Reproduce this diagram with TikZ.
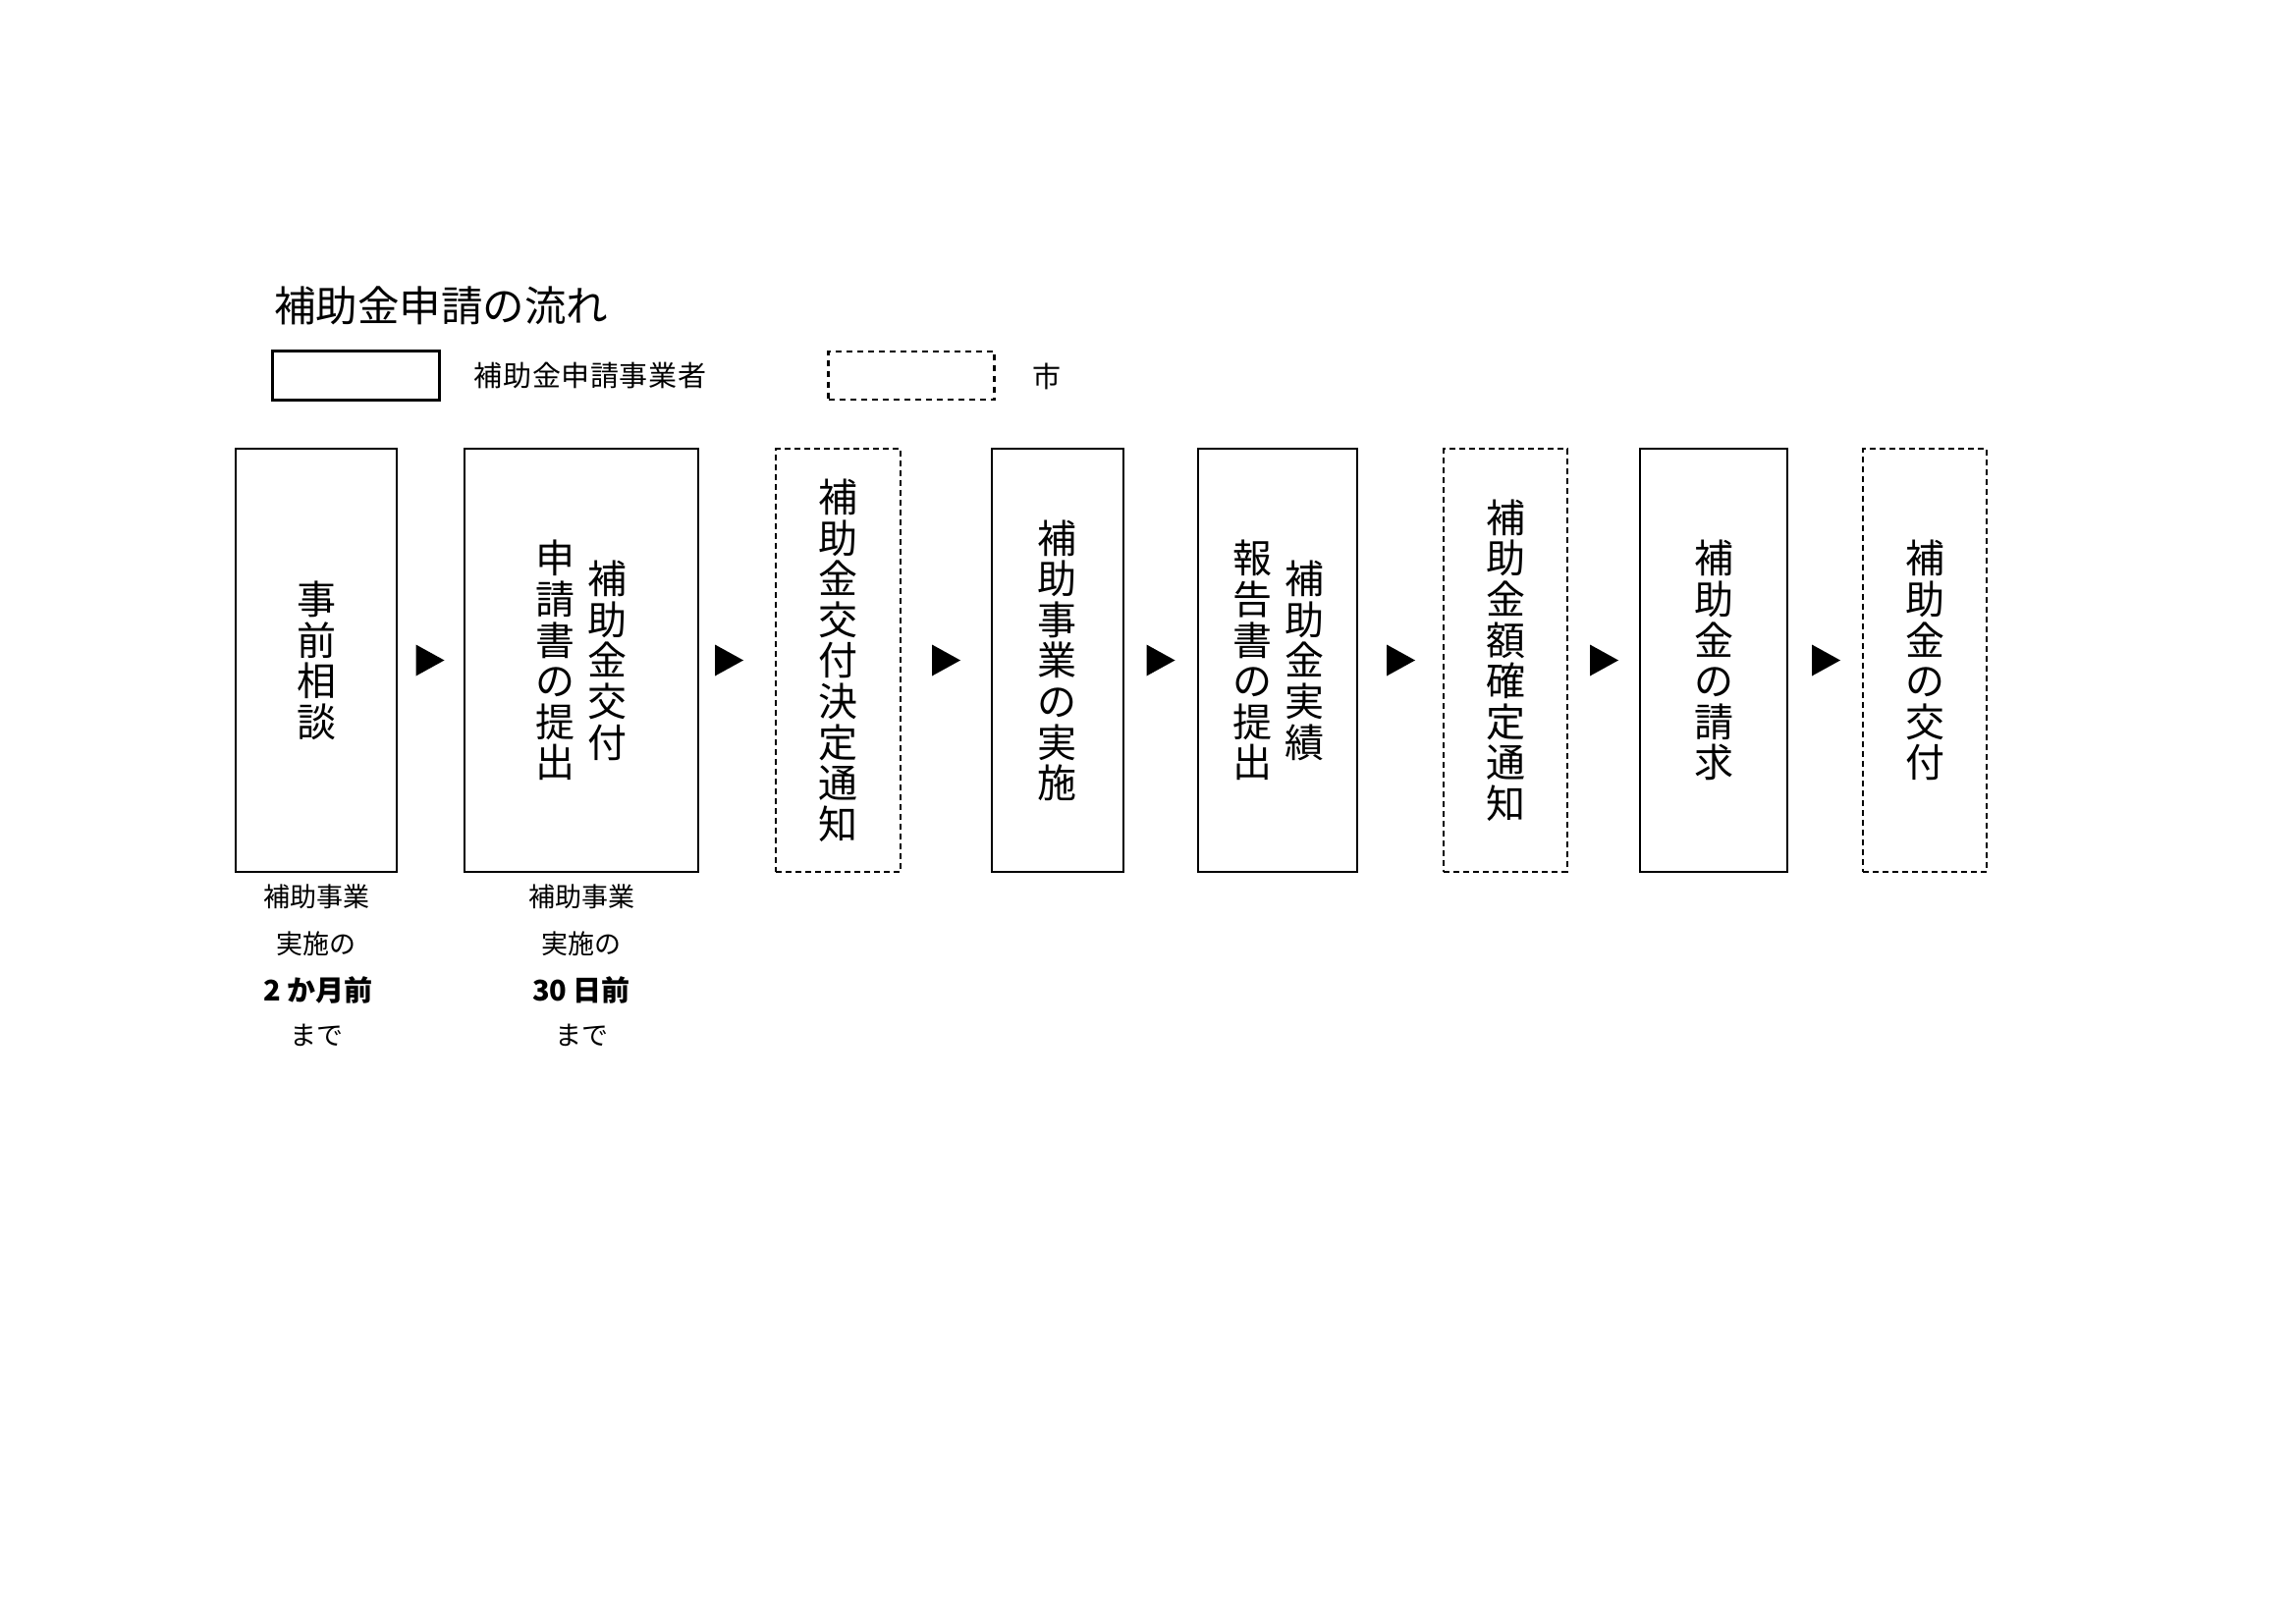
\documentclass[tikz,border=0pt]{standalone}
\usepackage{fontspec}
\setmainfont{Noto Sans CJK JP}
\begin{document}
\begin{tikzpicture}[x=1pt,y=-1pt,
  solidbox/.style={draw, line width=2pt, inner sep=0pt, outer sep=0pt, minimum height=430.5pt},
  dashbox/.style={solidbox, dash pattern=on 6pt off 4pt},
  vtext/.style={align=center, inner sep=0pt, font=\fontsize{40}{41.6}\selectfont},
  note/.style={inner sep=0pt, font=\fontsize{27}{30}\selectfont},
  notebold/.style={inner sep=0pt, font=\fontsize{29}{30}\selectfont\bfseries},
  tri/.style={fill=black}]
\useasboundingbox (0,0) rectangle (2338,1653);

% title and legend
\node[inner sep=0pt, anchor=west, font=\fontsize{42.5}{46}\selectfont] (title) at (279,311) {補助金申請の流れ};
\node[draw, line width=3pt, inner sep=0pt, minimum width=170pt, minimum height=49pt] (legA) at (362,382.5) {};
\node[inner sep=0pt, font=\fontsize{29}{32}\selectfont\addfontfeature{LetterSpace=2}] (legAt) at (601,383) {補助金申請事業者};
\node[draw, line width=2.6pt, dash pattern=on 6pt off 5pt, inner sep=0pt, minimum width=169pt, minimum height=49pt] (legB) at (928,382.5) {};
\node[inner sep=0pt, font=\fontsize{29}{32}\selectfont] (legBt) at (1066,383) {市};

% boxes
\node[solidbox, minimum width=164pt] (b1) at (322,672.7) {};
\node[solidbox, minimum width=238.5pt] (b2) at (592,672.7) {};
\node[dashbox, minimum width=127pt] (b3) at (853.5,672.7) {};
\node[solidbox, minimum width=134pt] (b4) at (1076.5,672.7) {};
\node[solidbox, minimum width=162pt] (b5) at (1301,672.7) {};
\node[dashbox, minimum width=125.4pt] (b6) at (1533,672.7) {};
\node[solidbox, minimum width=150pt] (b7) at (1745,672.7) {};
\node[dashbox, minimum width=126pt] (b8) at (1960.3,672.7) {};

% box texts
\node[vtext] (t1) at (b1.center) {事\\前\\相\\談};
\node[vtext] (t2a) at (618,672.7) {補\\助\\金\\交\\付};
\node[vtext] (t2b) at (565,672.7) {申\\請\\書\\の\\提\\出};
\node[vtext] (t3) at (b3.center) {補\\助\\金\\交\\付\\決\\定\\通\\知};
\node[vtext] (t4) at (b4.center) {補\\助\\事\\業\\の\\実\\施};
\node[vtext] (t5a) at (1328,672.7) {補\\助\\金\\実\\績};
\node[vtext] (t5b) at (1275,672.7) {報\\告\\書\\の\\提\\出};
\node[vtext] (t6) at (b6.center) {補\\助\\金\\額\\確\\定\\通\\知};
\node[vtext] (t7) at (b7.center) {補\\助\\金\\の\\請\\求};
\node[vtext] (t8) at (b8.center) {補\\助\\金\\の\\交\\付};

% arrows (filled triangles)
\fill[tri] (423.5,656.5) -- ++(0,32) -- ++(29,-16) -- cycle;
\fill[tri] (728,656.5) -- ++(0,32) -- ++(29,-16) -- cycle;
\fill[tri] (949,656.5) -- ++(0,32) -- ++(29,-16) -- cycle;
\fill[tri] (1167.5,656.5) -- ++(0,32) -- ++(29,-16) -- cycle;
\fill[tri] (1412,656.5) -- ++(0,32) -- ++(29,-16) -- cycle;
\fill[tri] (1619,656.5) -- ++(0,32) -- ++(29,-16) -- cycle;
\fill[tri] (1845,656.5) -- ++(0,32) -- ++(29,-16) -- cycle;

% notes under boxes
\node[note] (n1a) at (322,913) {補助事業};
\node[note] (n1b) at (322,961) {実施の};
\node[notebold] (n1c) at (324,1008) {2 か月前};
\node[note] (n1d) at (322,1054) {まで};
\node[note] (n2a) at (592,913) {補助事業};
\node[note] (n2b) at (592,961) {実施の};
\node[notebold] (n2c) at (592,1008) {30 日前};
\node[note] (n2d) at (592,1054) {まで};
\end{tikzpicture}
\end{document}
